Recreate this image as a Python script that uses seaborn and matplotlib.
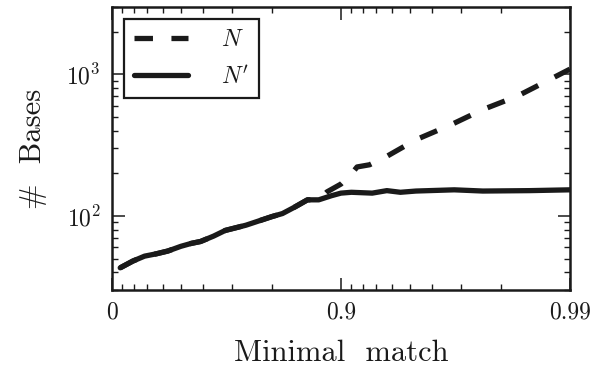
import numpy as np
import pandas as pd
import matplotlib
matplotlib.use("Agg")
import matplotlib.pyplot as plt
import seaborn as sns
from matplotlib.ticker import FixedLocator, FixedFormatter, LogLocator

# ---- data ----
m_nprime = [0.08, 0.19, 0.28, 0.36, 0.43, 0.50, 0.55, 0.59, 0.64, 0.68, 0.74,
            0.80, 0.82, 0.84, 0.86, 0.875, 0.89, 0.90, 0.91, 0.927, 0.937,
            0.945, 0.953, 0.968, 0.976, 0.985, 0.99]
n_prime = [43, 48, 52, 54, 56.5, 61, 64, 66, 72, 79, 86,
           99, 104, 115, 130, 130, 139, 145, 147, 145, 151,
           147, 150, 153, 150, 151, 153]

m_n = [0.08, 0.19, 0.28, 0.36, 0.43, 0.50, 0.55, 0.59, 0.64, 0.68, 0.74,
       0.80, 0.82, 0.84, 0.86, 0.875, 0.885, 0.90, 0.91, 0.915, 0.925,
       0.937, 0.953, 0.967, 0.976, 0.983, 0.9856, 0.99]
n_vals = [43, 48, 52, 54, 56.5, 61, 64, 66, 72, 79, 86,
          99, 104, 115, 130, 130, 148, 168, 198, 222, 230,
          264, 346, 442, 565, 702, 805, 1090]

x_ticks = [0, 0.9, 0.99]
x_ticklabels = ["0", "0.9", "0.99"]
x_minor = [0.1, 0.2, 0.3, 0.4, 0.5, 0.6, 0.7, 0.8,
           0.91, 0.92, 0.93, 0.94, 0.95, 0.96, 0.97, 0.98]

sns.set_theme(style="ticks")
plt.rcParams.update({
    "font.family": ["cmr10", "DejaVu Serif"],
    "mathtext.fontset": "cm",
    "axes.unicode_minus": False,
    "axes.formatter.use_mathtext": True,
    "axes.linewidth": 1.8,
    "xtick.direction": "in",
    "ytick.direction": "in",
    "xtick.top": True,
    "ytick.right": True,
})

INK = "#1a1a1a"
fig = plt.figure(figsize=(6.05, 3.67), dpi=100)
ax = fig.add_axes([0.185, 0.21, 0.757, 0.771])

df_n = pd.DataFrame({"m": m_n, "v": n_vals})
df_p = pd.DataFrame({"m": m_nprime, "v": n_prime})

sns.lineplot(data=df_n, x="m", y="v", ax=ax, color=INK, lw=3.8,
             linestyle=(0, (3.5, 3.5)), label="$N$")
sns.lineplot(data=df_p, x="m", y="v", ax=ax, color=INK, lw=3.8,
             label="$N'$")

fwd = lambda m: -np.log10(1 - np.asarray(m, dtype=float))
inv = lambda t: 1 - 10 ** (-np.asarray(t, dtype=float))
ax.set_xscale("function", functions=(fwd, inv))
ax.set_yscale("log")
ax.set_xlim(0, 0.99)
ax.set_ylim(30, 3000)

ax.xaxis.set_major_locator(FixedLocator(x_ticks))
ax.xaxis.set_major_formatter(FixedFormatter(x_ticklabels))
ax.xaxis.set_minor_locator(FixedLocator(x_minor))
ax.yaxis.set_major_locator(LogLocator(base=10, numticks=10))
ax.yaxis.set_minor_locator(LogLocator(base=10, subs=np.arange(2, 10), numticks=20))

ax.tick_params(which="major", length=9, width=1.1, labelsize=17, pad=8,
               color=INK, labelcolor=INK)
ax.tick_params(which="minor", length=4, width=1.0, color=INK)

ax.set_xlabel("Minimal  match", fontsize=22, labelpad=12, color=INK)
ax.set_ylabel("#  Bases", fontsize=22, labelpad=14, color=INK)

for s in ax.spines.values():
    s.set_color(INK)

leg = ax.legend(loc="upper left", fontsize=17, handlelength=2.3,
                frameon=True, fancybox=False, framealpha=1.0,
                borderaxespad=0.5, borderpad=0.42, labelspacing=0.62,
                handletextpad=1.4)
leg.get_frame().set_edgecolor(INK)
leg.get_frame().set_linewidth(1.6)
for t in leg.get_texts():
    t.set_color(INK)

fig.savefig("out.png", dpi=100)
